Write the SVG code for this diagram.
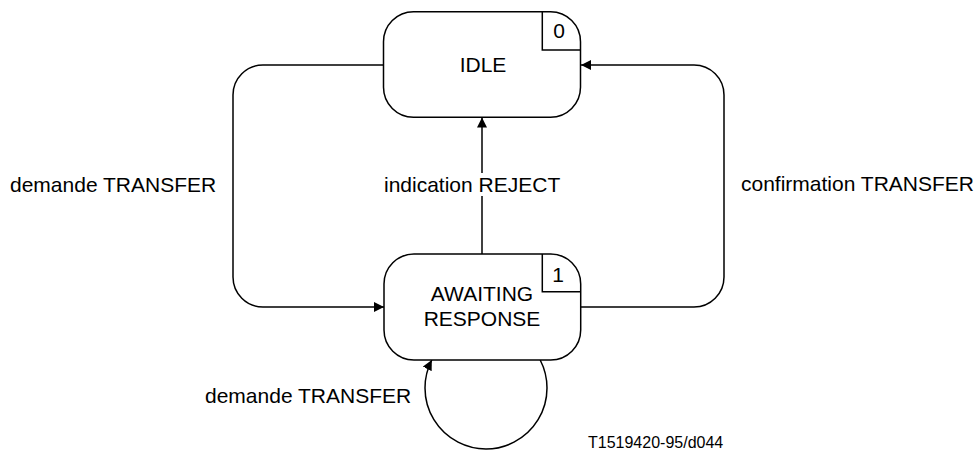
<svg xmlns="http://www.w3.org/2000/svg" width="977" height="450" viewBox="0 0 977 450">
<style>
.box{fill:#fff;stroke:#000;stroke-width:1.5}
.ln{fill:none;stroke:#000;stroke-width:1.5}
text{font-family:"Liberation Sans",Arial,sans-serif;font-size:21px;fill:#000}
.c{text-anchor:middle}
.ft{font-size:16px}
</style>
<defs>
<marker id="arr" viewBox="0 0 10 10" refX="10" refY="5" markerWidth="10" markerHeight="10" markerUnits="userSpaceOnUse" orient="auto">
<path d="M0,0 L10,5 L0,10 z" fill="#000"/>
</marker>
</defs>
<g id="connectors">
<path class="ln" d="M383.5,65 H263 A30,30 0 0 0 233,95 V277 A30,30 0 0 0 263,307 H384" marker-end="url(#arr)"/>
<path class="ln" d="M581,307 H694 A30,30 0 0 0 724,277 V95 A30,30 0 0 0 694,65 H581" marker-end="url(#arr)"/>
<path class="ln" d="M482,254 V117.5" marker-end="url(#arr)"/>
<path class="ln" d="M540.2,360 A61,61 0 1 1 431.8,360" marker-end="url(#arr)"/>
<rect x="382" y="173" width="182" height="23" fill="#fff"/>
<text x="10" y="192">demande TRANSFER</text>
<text x="384" y="192">indication REJECT</text>
<text x="741" y="191">confirmation TRANSFER</text>
<text x="205" y="403">demande TRANSFER</text>
</g>
<g id="idle">
<rect class="box" x="383.5" y="11.7" width="197" height="105.6" rx="30" ry="30"/>
<path class="ln" d="M542.3,11.7 V50 H580.5"/>
<text class="c" x="559" y="38">0</text>
<text class="c" x="483" y="72">IDLE</text>
</g>
<g id="awaiting">
<rect class="box" x="384" y="254" width="196.7" height="106" rx="30" ry="30"/>
<path class="ln" d="M542.3,254 V291.7 H580.5"/>
<text class="c" x="558" y="282">1</text>
<text class="c" x="482" y="301">AWAITING</text>
<text class="c" x="482" y="326">RESPONSE</text>
</g>
<text class="ft" x="588" y="448">T1519420-95/d044</text>
</svg>
